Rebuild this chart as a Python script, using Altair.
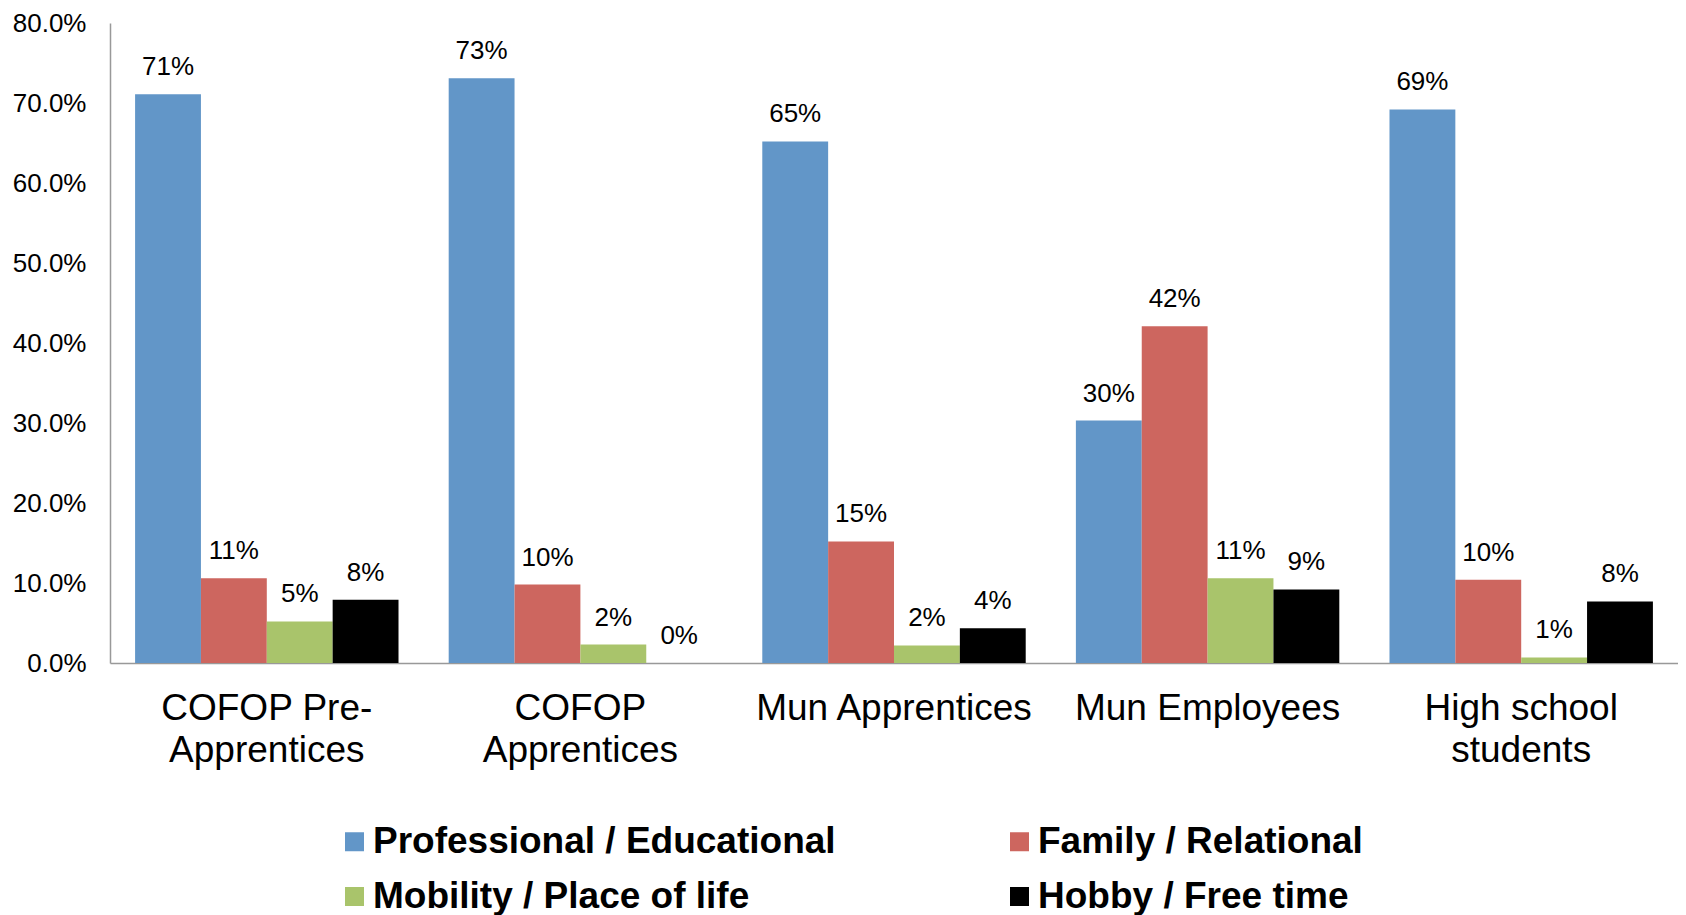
import altair as alt
import pandas as pd

categories = ["COFOP Pre-\nApprentices", "COFOP\nApprentices", "Mun Apprentices",
              "Mun Employees", "High school\nstudents"]
series = ["Professional / Educational", "Family / Relational",
          "Mobility / Place of life", "Hobby / Free time"]
colors = ["#6296C8", "#CD665F", "#A9C46B", "#000000"]

professional = [0.711, 0.731, 0.652, 0.303, 0.692]
family = [0.106, 0.098, 0.152, 0.421, 0.104]
mobility = [0.052, 0.023, 0.022, 0.106, 0.007]
hobby = [0.079, 0.0, 0.0435, 0.092, 0.077]

rows = []
for s, vals in zip(series, [professional, family, mobility, hobby]):
    for c, v in zip(categories, vals):
        rows.append({"group": c, "series": s, "value": v})
df = pd.DataFrame(rows)

FONT = "Liberation Sans"

base = alt.Chart(df).encode(
    x=alt.X("group:N", sort=categories,
            scale=alt.Scale(paddingInner=0.16, paddingOuter=0.08),
            axis=alt.Axis(title=None, labelAngle=0, labelExpr="split(datum.label, '\\n')",
                          labelFontSize=37, labelFont=FONT, labelColor="black",
                          labelPadding=27, labelLineHeight=42, labelBaseline="top",
                          ticks=False, domainColor="#999999", domainWidth=1.5,
                          labelLimit=400)),
    xOffset=alt.XOffset("series:N", sort=series,
                        scale=alt.Scale(paddingInner=0, paddingOuter=0)),
    y=alt.Y("value:Q", scale=alt.Scale(domain=[0, 0.8], nice=False),
            axis=alt.Axis(title=None, values=[0, 0.1, 0.2, 0.3, 0.4, 0.5, 0.6, 0.7, 0.8],
                          format=".1%", grid=False, ticks=False, labelFontSize=26,
                          labelFont=FONT, labelColor="black", labelPadding=24,
                          domainColor="#999999", domainWidth=1.5)),
)

bars = base.mark_bar().encode(
    color=alt.Color("series:N", sort=series,
                    scale=alt.Scale(domain=series, range=colors),
                    legend=alt.Legend(title=None, orient="none", legendX=226, legendY=800,
                                      columns=2, direction="horizontal",
                                      symbolType="square", symbolSize=361,
                                      symbolStrokeWidth=0, labelFontSize=37,
                                      labelFontWeight="bold", labelFont=FONT,
                                      labelColor="black", columnPadding=165,
                                      rowPadding=17, labelOffset=0, labelLimit=1000))
)

labels = base.mark_text(dy=-19, baseline="alphabetic", fontSize=26, font=FONT,
                        color="black").encode(
    text=alt.Text("value:Q", format=".0%")
)

chart = alt.layer(bars, labels).properties(
    width=1568, height=640,
    padding={"left": 102, "top": 15, "right": 0, "bottom": 252},
    autosize=alt.AutoSizeParams(type="none"),
).configure_view(stroke=None)

chart.save("out.html", embed_options={"renderer": "svg", "actions": False})
